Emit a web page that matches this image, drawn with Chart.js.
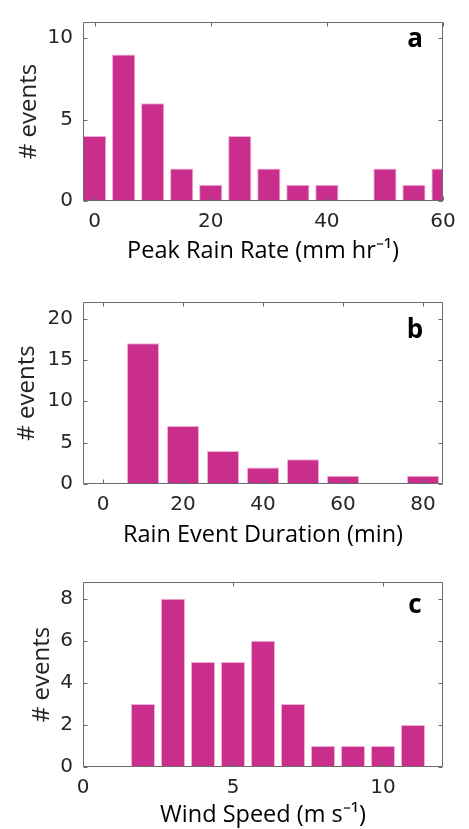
<!DOCTYPE html>
<html>
<head>
<meta charset="utf-8">
<script src="https://cdn.jsdelivr.net/npm/chart.js@4"></script>
<style>
  body { margin: 0; width: 469px; height: 829px; overflow: hidden; background: #fff; position: relative; }
  canvas { position: absolute; left: 0; }
</style>
</head>
<body>
<canvas id="chartA" width="469" height="270" style="top:0px"></canvas>
<canvas id="chartB" width="469" height="270" style="top:280px"></canvas>
<canvas id="chartC" width="469" height="269" style="top:560px"></canvas>
<script>
// Panel a: peak rain rate
let rateBins = [0, 5, 10, 15, 20, 25, 30, 35, 40, 45, 50, 55, 60];
let rateCounts = [4, 9, 6, 2, 1, 4, 2, 1, 1, 0, 2, 1, 2];
let rateTicks = [0, 20, 40, 60];
let rateCountTicks = [0, 5, 10];

// Panel b: rain event duration
let durationBins = [0, 10, 20, 30, 40, 50, 60, 70, 80];
let durationCounts = [0, 17, 7, 4, 2, 3, 1, 0, 1];
let durationTicks = [0, 20, 40, 60, 80];
let durationCountTicks = [0, 5, 10, 15, 20];

// Panel c: wind speed
let windBins = [2, 3, 4, 5, 6, 7, 8, 9, 10, 11];
let windCounts = [3, 8, 5, 5, 6, 3, 1, 1, 1, 2];
let windTicks = [0, 5, 10];
let windCountTicks = [0, 2, 4, 6, 8];

const barColor = "#C92E8C";
const boxColor = "#6b6b6b";

// draws the box and inward ticks on all four sides, plus panel letter
const boxPlugin = {
    id: "box",
    afterDraw(chart) {
        let ctx = chart.ctx;
        let a = chart.chartArea;
        let x = chart.scales.x, y = chart.scales.y;
        let L = Math.round(a.left) + 0.5, R = Math.round(a.right) - 0.5;
        let T = Math.round(a.top) + 0.5, B = Math.round(a.bottom) - 0.5;
        ctx.save();
        ctx.strokeStyle = boxColor;
        ctx.lineWidth = 1;
        ctx.beginPath();
        ctx.rect(L, T, R - L, B - T);
        x.ticks.forEach(t => {
            let px = Math.round(x.getPixelForValue(t.value)) + 0.5;
            ctx.moveTo(px, B); ctx.lineTo(px, B - 4);
            ctx.moveTo(px, T); ctx.lineTo(px, T + 4);
        });
        y.ticks.forEach(t => {
            let py = Math.round(y.getPixelForValue(t.value)) + 0.5;
            ctx.moveTo(L, py); ctx.lineTo(L + 4, py);
            ctx.moveTo(R, py); ctx.lineTo(R - 4, py);
        });
        ctx.stroke();

        let opt = chart.options.plugins.box;
        ctx.fillStyle = "#000";
        ctx.font = 'bold 26px "Open Sans"';
        ctx.textAlign = "center";
        ctx.textBaseline = "alphabetic";
        ctx.fillText(opt.letter, a.right - 28, a.top + opt.letterY);
        ctx.restore();
    }
};

function makeChart(id, bins, counts, xTicks, yTicks, o) {
    let ctx = document.getElementById(id).getContext("2d");
    return new Chart(ctx, {
        type: "bar",
        data: {
            datasets: [{
                data: bins.map((b, i) => ({ x: b, y: counts[i] })),
                backgroundColor: barColor,
                borderColor: "#EEB0D5",
                borderWidth: 1,
                borderSkipped: "start",
                barPercentage: 0.8,
                categoryPercentage: 1,
                clip: 0
            }]
        },
        options: {
            responsive: false,
            animation: false,
            layout: { padding: { top: o.padTop, right: 26, left: 0, bottom: 0 } },
            plugins: {
                legend: { display: false },
                tooltip: { enabled: false },
                box: { letter: o.letter, letterY: o.letterY }
            },
            scales: {
                x: {
                    type: "linear",
                    min: o.xMin,
                    max: o.xMax,
                    offset: false,
                    afterBuildTicks: s => { s.ticks = xTicks.map(v => ({ value: v })); },
                    afterFit: s => { s.height = o.xAxisH; },
                    grid: { display: false, drawTicks: false },
                    border: { display: false },
                    ticks: {
                        font: { family: "DejaVu Sans", size: 20 },
                        color: "#262626",
                        padding: 9,
                        maxRotation: 0,
                        autoSkip: false
                    },
                    title: {
                        display: true,
                        text: o.xTitle,
                        font: { family: "Open Sans", size: 23.5 },
                        color: "#000",
                        padding: { top: 0, bottom: o.titlePad }
                    }
                },
                y: {
                    min: 0,
                    max: o.yMax,
                    afterBuildTicks: s => { s.ticks = yTicks.map(v => ({ value: v })); },
                    afterFit: s => { s.width = 83; },
                    grid: { display: false, drawTicks: false },
                    border: { display: false },
                    ticks: {
                        font: { family: "DejaVu Sans", size: 20 },
                        color: "#262626",
                        padding: 10
                    },
                    title: {
                        display: true,
                        text: "# events",
                        font: { family: "Open Sans", size: 24 },
                        color: "#222",
                        padding: { top: o.yTitlePad, bottom: 0 }
                    }
                }
            }
        },
        plugins: [boxPlugin]
    });
}

makeChart("chartA", rateBins, rateCounts, rateTicks, rateCountTicks, {
    xMin: -2, xMax: 60, yMax: 11, padTop: 13, xAxisH: 69, titlePad: 4.6, yTitlePad: 15,
    xTitle: "Peak Rain Rate (mm hr\u207B\u00B9)", letter: "a", letterY: 25
});
makeChart("chartB", durationBins, durationCounts, durationTicks, durationCountTicks, {
    xMin: -5, xMax: 85, yMax: 22, padTop: 14, xAxisH: 66, titlePad: 0.6, yTitlePad: 13,
    xTitle: "Rain Event Duration (min)", letter: "b", letterY: 36
});
makeChart("chartC", windBins, windCounts, windTicks, windCountTicks, {
    xMin: 0, xMax: 12, yMax: 8.8, padTop: 17, xAxisH: 62, titlePad: 0, yTitlePad: 28,
    xTitle: "Wind Speed (m s\u207B\u00B9)", letter: "c", letterY: 31
});
</script>
</body>
</html>
